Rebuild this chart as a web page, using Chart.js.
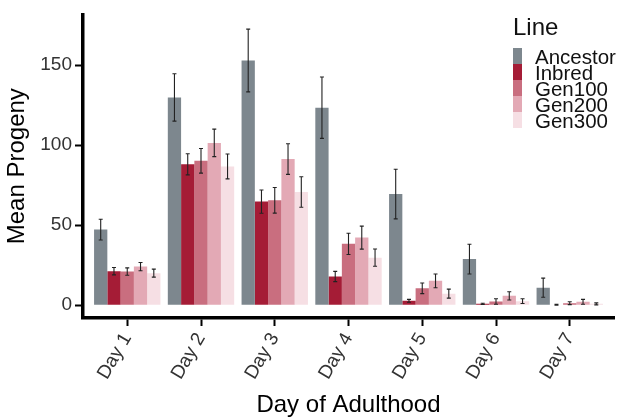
<!DOCTYPE html>
<html><head><meta charset="utf-8">
<script src="https://cdn.jsdelivr.net/npm/chart.js@4/dist/chart.umd.min.js"></script>
<style>html,body{margin:0;padding:0;background:#fff}#wrap{width:620px;height:418px}</style>
</head><body><div id="wrap"><canvas id="c" width="620" height="418"></canvas></div>
<script>
const days = ["Day 1", "Day 2", "Day 3", "Day 4", "Day 5", "Day 6", "Day 7"];
const lines = ["Ancestor", "Inbred", "Gen100", "Gen200", "Gen300"];
const ancestor   = [47.2, 129.8, 152.9, 123.4, 69.4, 28.8, 10.9];
const ancestorSE = [6.5, 14.8, 19.6, 19.2, 15.5, 9.3, 6.0];
const inbred     = [21.2, 88.0, 64.7, 17.9, 2.7, 0.8, 0.3];
const inbredSE   = [2.3, 6.6, 7.3, 3.2, 0.9, 0.4, 0.3];
const gen100     = [21.0, 90.2, 65.5, 38.3, 10.5, 2.3, 1.2];
const gen100SE   = [2.3, 7.7, 8.0, 6.6, 3.3, 1.7, 0.9];
const gen200     = [24.1, 101.4, 91.3, 42.2, 15.2, 5.8, 2.1];
const gen200SE   = [2.6, 8.6, 9.6, 7.2, 4.3, 2.6, 1.5];
const gen300     = [20.0, 86.7, 70.7, 29.7, 7.2, 2.5, 0.8];
const gen300SE   = [2.5, 7.8, 9.5, 5.4, 2.8, 1.5, 0.6];
const yTicks = [0, 50, 100, 150];
const colors = ["#7d878e", "#a51c36", "#c96e7f", "#e3a9b5", "#f6dfe4"];

const means = [ancestor, inbred, gen100, gen200, gen300];
const ses = [ancestorSE, inbredSE, gen100SE, gen200SE, gen300SE];
const FONT = "'Liberation Sans', Arial, Helvetica, sans-serif";

const datasets = lines.map((name, k) => ({
  label: name,
  data: means[k].map((v, i) => ({x: i + 1, y: v})),
  se: ses[k],
  backgroundColor: colors[k],
  borderWidth: 0,
  categoryPercentage: 0.9,
  barPercentage: 1.0
}));

const errorBars = {
  id: 'errorBars',
  afterDatasetsDraw(chart) {
    const ctx = chart.ctx, ys = chart.scales.y;
    ctx.save();
    ctx.strokeStyle = '#222';
    ctx.lineWidth = 1.1;
    chart.data.datasets.forEach((ds, k) => {
      const meta = chart.getDatasetMeta(k);
      meta.data.forEach((bar, i) => {
        const m = ds.data[i].y, s = ds.se[i];
        const x = bar.x;
        const y1 = ys.getPixelForValue(m + s), y2 = ys.getPixelForValue(m - s);
        ctx.beginPath();
        ctx.moveTo(x, y1); ctx.lineTo(x, y2);
        ctx.moveTo(x - 2, y1); ctx.lineTo(x + 2, y1);
        ctx.moveTo(x - 2, y2); ctx.lineTo(x + 2, y2);
        ctx.stroke();
      });
    });
    ctx.restore();
  }
};

const customLegend = {
  id: 'customLegend',
  afterDraw(chart) {
    const ctx = chart.ctx;
    ctx.save();
    ctx.fillStyle = '#111';
    ctx.font = `24px ${FONT}`;
    ctx.textBaseline = 'alphabetic';
    ctx.textAlign = 'left';
    ctx.fillText('Line', 513, 35);
    ctx.font = `20.5px ${FONT}`;
    chart.data.datasets.forEach((ds, k) => {
      const top = 48 + k * 16;
      ctx.fillStyle = ds.backgroundColor;
      ctx.fillRect(513, top, 9, 16);
      ctx.fillStyle = '#111';
      ctx.fillText(ds.label, 535, top + 15.5);
    });
    ctx.restore();
  }
};

new Chart(document.getElementById('c'), {
  type: 'bar',
  data: { datasets },
  plugins: [errorBars, customLegend],
  options: {
    responsive: false,
    animation: false,
    devicePixelRatio: 1,
    layout: { padding: { left: 0, right: 6, top: 11, bottom: 0 } },
    plugins: { legend: { display: false }, tooltip: { enabled: false } },
    scales: {
      x: {
        type: 'linear',
        min: 0.4, max: 7.6,
        offset: false,
        afterBuildTicks: (s) => { s.ticks = days.map((d, i) => ({ value: i + 1 })); },
        afterFit: (s) => { s.height = 100; },
        grid: { display: true, drawOnChartArea: false, drawTicks: true, tickLength: 8, tickWidth: 2, tickColor: '#000', offset: false },
        border: { display: true, color: '#000', width: 3.5 },
        ticks: {
          autoSkip: false, maxRotation: 60, minRotation: 60, padding: 3,
          color: '#333', font: { family: FONT, size: 19 },
          callback: (v) => days[v - 1] || ''
        },
        title: { display: true, text: 'Day of Adulthood', color: '#000',
                 font: { family: FONT, size: 24, lineHeight: 1 }, padding: { top: 0, bottom: 1 } }
      },
      y: {
        min: -8.03, max: 181.7,
        afterBuildTicks: (s) => { s.ticks = yTicks.map(v => ({ value: v })); },
        afterFit: (s) => { s.width = 83; },
        grid: { display: true, drawOnChartArea: false, drawTicks: true, tickLength: 8, tickWidth: 2, tickColor: '#000' },
        border: { display: true, color: '#000', width: 3.5 },
        ticks: { padding: 3, color: '#333', font: { family: FONT, size: 19 } },
        title: { display: true, text: 'Mean Progeny', color: '#000',
                 font: { family: FONT, size: 24 }, padding: { top: 3, bottom: 0 } }
      }
    }
  }
});
</script>
</body></html>
